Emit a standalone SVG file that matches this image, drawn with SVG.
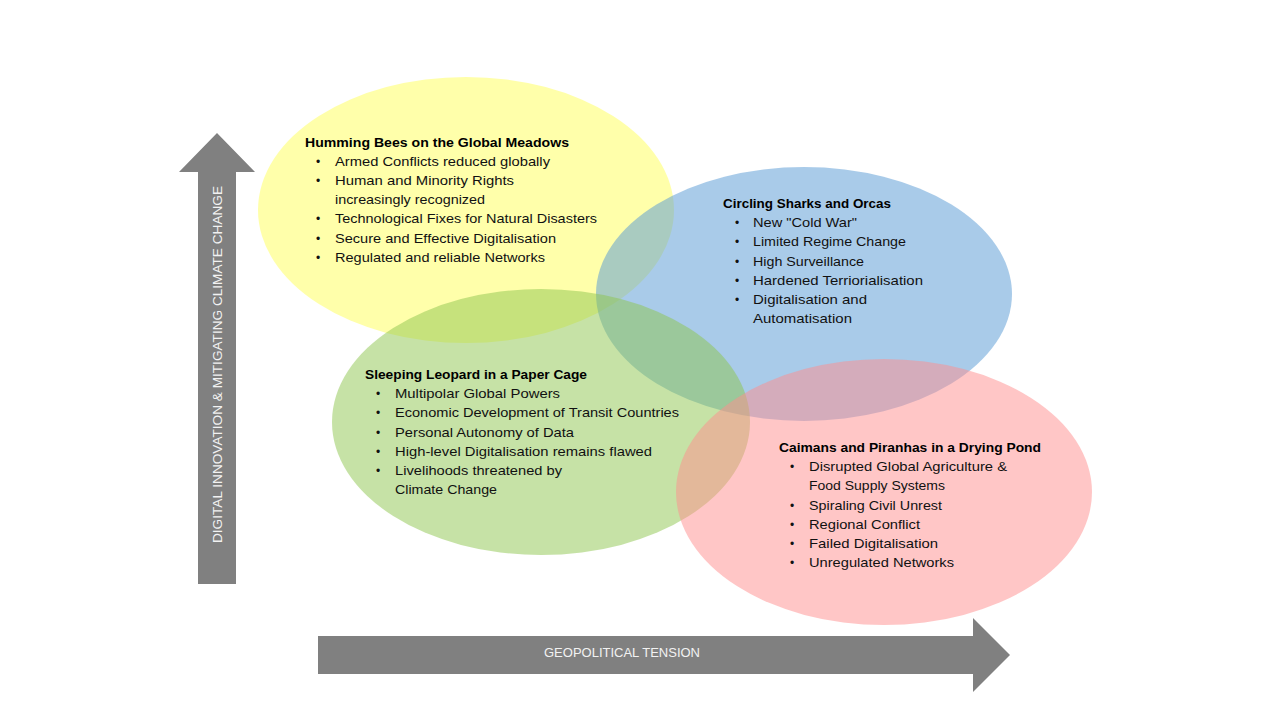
<svg xmlns="http://www.w3.org/2000/svg" width="1280" height="720" viewBox="0 0 1280 720">
<style>
.bg{fill:#ffffff}
.ell{stroke:none}
.yel{fill:#FFFF55;fill-opacity:0.5}
.blu{fill:#5B9BD5;fill-opacity:0.52}
.grn{fill:#8DC64E;fill-opacity:0.5}
.pnk{fill:#FF8E8E;fill-opacity:0.5}
.t{font-family:"Liberation Sans",Arial,sans-serif;font-size:13.5px;fill:#111111}
.h{font-family:"Liberation Sans",Arial,sans-serif;font-size:13.5px;font-weight:bold;fill:#000000}
.b{font-family:"Liberation Sans",Arial,sans-serif;font-size:12px;fill:#111111}
.axis{fill:#808080}
.al{font-family:"Liberation Sans",Arial,sans-serif;font-size:13px;fill:#F2F2F2}
</style>
<rect class="bg" x="0" y="0" width="1280" height="720"/>

<g id="axes">
  <polygon class="axis" points="198,584 236,584 236,172 255,172 217,133 179,172 198,172"/>
  <text class="al" transform="translate(222,543) rotate(-90)" textLength="357" lengthAdjust="spacingAndGlyphs">DIGITAL INNOVATION &amp; MITIGATING CLIMATE CHANGE</text>
  <polygon class="axis" points="318,636 973,636 973,618 1010,655 973,692 973,674 318,674"/>
  <text class="al" x="544" y="657" textLength="156" lengthAdjust="spacingAndGlyphs">GEOPOLITICAL TENSION</text>
</g>

<g id="node-humming-bees">
  <ellipse class="ell yel" cx="466" cy="210" rx="208" ry="133"/>
  <text class="h" x="305" y="147" textLength="264" lengthAdjust="spacingAndGlyphs">Humming Bees on the Global Meadows</text>
  <text class="b" x="316" y="166">•</text><text class="t" x="335" y="166" textLength="215" lengthAdjust="spacingAndGlyphs">Armed Conflicts reduced globally</text>
  <text class="b" x="316" y="185">•</text><text class="t" x="335" y="185" textLength="179" lengthAdjust="spacingAndGlyphs">Human and Minority Rights</text>
  <text class="t" x="335" y="204" textLength="150" lengthAdjust="spacingAndGlyphs">increasingly recognized</text>
  <text class="b" x="316" y="223">•</text><text class="t" x="335" y="223" textLength="262" lengthAdjust="spacingAndGlyphs">Technological Fixes for Natural Disasters</text>
  <text class="b" x="316" y="243">•</text><text class="t" x="335" y="243" textLength="221" lengthAdjust="spacingAndGlyphs">Secure and Effective Digitalisation</text>
  <text class="b" x="316" y="262">•</text><text class="t" x="335" y="262" textLength="210" lengthAdjust="spacingAndGlyphs">Regulated and reliable Networks</text>
</g>

<g id="node-circling-sharks">
  <ellipse class="ell blu" cx="804" cy="294" rx="208" ry="127"/>
  <text class="h" x="723" y="208" textLength="168" lengthAdjust="spacingAndGlyphs">Circling Sharks and Orcas</text>
  <text class="b" x="735" y="227">•</text><text class="t" x="753" y="227" textLength="104" lengthAdjust="spacingAndGlyphs">New "Cold War"</text>
  <text class="b" x="735" y="246">•</text><text class="t" x="753" y="246" textLength="153" lengthAdjust="spacingAndGlyphs">Limited Regime Change</text>
  <text class="b" x="735" y="266">•</text><text class="t" x="753" y="266" textLength="111" lengthAdjust="spacingAndGlyphs">High Surveillance</text>
  <text class="b" x="735" y="285">•</text><text class="t" x="753" y="285" textLength="170" lengthAdjust="spacingAndGlyphs">Hardened Terriorialisation</text>
  <text class="b" x="735" y="304">•</text><text class="t" x="753" y="304" textLength="114" lengthAdjust="spacingAndGlyphs">Digitalisation and</text>
  <text class="t" x="753" y="323" textLength="99" lengthAdjust="spacingAndGlyphs">Automatisation</text>
</g>

<g id="node-sleeping-leopard">
  <ellipse class="ell grn" cx="541" cy="422" rx="209" ry="133"/>
  <text class="h" x="365" y="379" textLength="222" lengthAdjust="spacingAndGlyphs">Sleeping Leopard in a Paper Cage</text>
  <text class="b" x="376" y="398">•</text><text class="t" x="395" y="398" textLength="165" lengthAdjust="spacingAndGlyphs">Multipolar Global Powers</text>
  <text class="b" x="376" y="417">•</text><text class="t" x="395" y="417" textLength="284" lengthAdjust="spacingAndGlyphs">Economic Development of Transit Countries</text>
  <text class="b" x="376" y="437">•</text><text class="t" x="395" y="437" textLength="179" lengthAdjust="spacingAndGlyphs">Personal Autonomy  of Data</text>
  <text class="b" x="376" y="456">•</text><text class="t" x="395" y="456" textLength="257" lengthAdjust="spacingAndGlyphs">High-level Digitalisation remains flawed</text>
  <text class="b" x="376" y="475">•</text><text class="t" x="395" y="475" textLength="167" lengthAdjust="spacingAndGlyphs">Livelihoods threatened by</text>
  <text class="t" x="395" y="494" textLength="102" lengthAdjust="spacingAndGlyphs">Climate Change</text>
</g>

<g id="node-caimans-piranhas">
  <ellipse class="ell pnk" cx="884" cy="492" rx="208" ry="133"/>
  <text class="h" x="779" y="452" textLength="262" lengthAdjust="spacingAndGlyphs">Caimans and Piranhas in a Drying Pond</text>
  <text class="b" x="790" y="471">•</text><text class="t" x="809" y="471" textLength="198" lengthAdjust="spacingAndGlyphs">Disrupted Global Agriculture &amp;</text>
  <text class="t" x="809" y="490" textLength="136" lengthAdjust="spacingAndGlyphs">Food Supply Systems</text>
  <text class="b" x="790" y="510">•</text><text class="t" x="809" y="510" textLength="133" lengthAdjust="spacingAndGlyphs">Spiraling Civil Unrest</text>
  <text class="b" x="790" y="529">•</text><text class="t" x="809" y="529" textLength="111" lengthAdjust="spacingAndGlyphs">Regional Conflict</text>
  <text class="b" x="790" y="548">•</text><text class="t" x="809" y="548" textLength="129" lengthAdjust="spacingAndGlyphs">Failed Digitalisation</text>
  <text class="b" x="790" y="567">•</text><text class="t" x="809" y="567" textLength="145" lengthAdjust="spacingAndGlyphs">Unregulated Networks</text>
</g>

<g id="connectors"></g>
</svg>
